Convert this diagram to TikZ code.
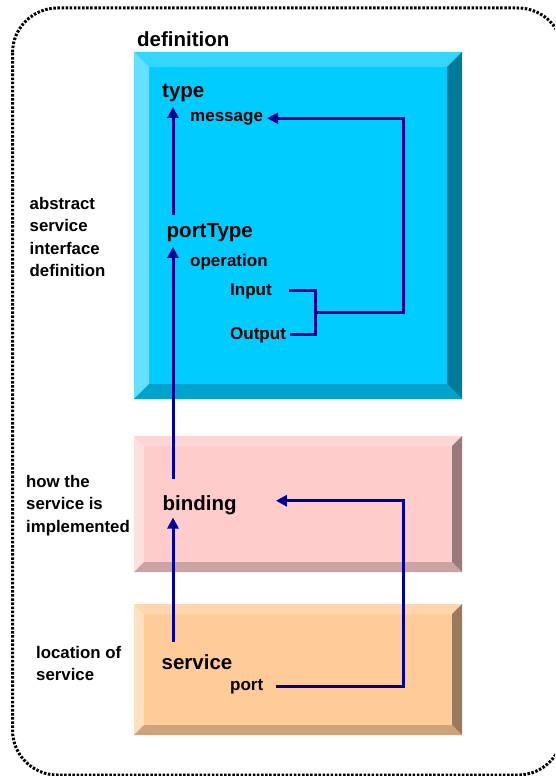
\documentclass[tikz,border=0pt]{standalone}
\usepackage{fontspec}
\setmainfont{Liberation Sans}
\usetikzlibrary{arrows.meta}
\definecolor{navy}{RGB}{0,0,153}
\definecolor{bluemain}{HTML}{00CCFF}
\definecolor{bluetop}{HTML}{33D6FF}
\definecolor{blueleft}{HTML}{66E0FF}
\definecolor{blueright}{HTML}{007A99}
\definecolor{bluebot}{HTML}{00A3CC}
\definecolor{pinkmain}{HTML}{FFCCCC}
\definecolor{pinktop}{HTML}{FFD6D6}
\definecolor{pinkleft}{HTML}{FFE0E0}
\definecolor{pinkright}{HTML}{997A7A}
\definecolor{pinkbot}{HTML}{CCA3A3}
\definecolor{orgmain}{HTML}{FFCC99}
\definecolor{orgtop}{HTML}{FFD6AD}
\definecolor{orgleft}{HTML}{FFE0C2}
\definecolor{orgright}{HTML}{997A5C}
\definecolor{orgbot}{HTML}{CCA37A}
\newcommand{\bevelbox}[6]{%
  \fill[#6main] (#1,#2) rectangle (#3,#4);
  \fill[#6top] (#1,#2) -- (#3,#2) -- (#3-#5,#2+#5) -- (#1+#5,#2+#5) -- cycle;
  \fill[#6left] (#1,#2) -- (#1+#5,#2+#5) -- (#1+#5,#4-#5) -- (#1,#4) -- cycle;
  \fill[#6right] (#3,#2) -- (#3,#4) -- (#3-#5,#4-#5) -- (#3-#5,#2+#5) -- cycle;
  \fill[#6bot] (#1,#4) -- (#3,#4) -- (#3-#5,#4-#5) -- (#1+#5,#4-#5) -- cycle;
}
\tikzset{
  mainlbl/.style={anchor=base west, inner sep=0pt, font=\fontsize{20.5}{24}\selectfont\bfseries},
  sublbl/.style={anchor=base west, inner sep=0pt, font=\fontsize{17}{20}\selectfont\bfseries},
  sidelbl/.style={anchor=base west, inner sep=0pt, align=left, font=\fontsize{16.8}{22.5}\selectfont\bfseries},
  link/.style={draw=navy, line width=3pt},
  arr/.style={link, -{Triangle[length=11pt,width=11pt]}},
  border/.style={draw=black, line width=3pt, dash pattern=on 2.5pt off 1.6pt, rounded corners=45pt}
}
\begin{document}
\begin{tikzpicture}[x=1pt,y=-1pt]
\useasboundingbox (0,0) rectangle (555,776);
\clip (0,0) rectangle (555,776);
\fill[white] (0,0) rectangle (555,776);
\draw[border] (12.5,8) rectangle (563,775);
% boxes
\bevelbox{134}{52}{462}{399}{15}{blue}
\bevelbox{134}{436}{462}{572}{10}{pink}
\bevelbox{134}{604}{462}{735}{10}{org}
% labels
\node[mainlbl] (definition) at (137,47) {definition};
\node[mainlbl] (type) at (162,97.5) {type};
\node[sublbl] (message) at (190,121) {message};
\node[mainlbl] (portType) at (166.5,237.5) {portType};
\node[sublbl] (operation) at (190,266.5) {operation};
\node[sublbl] (Input) at (230,295) {Input};
\node[sublbl] (Output) at (230,339) {Output};
\node[mainlbl] (binding) at (162.5,510) {binding};
\node[mainlbl] (service) at (161.5,669) {service};
\node[sublbl] (port) at (230,690) {port};
\node[sidelbl] (abs) at (29.5,276.5) {abstract\\service\\interface\\definition};
\node[sidelbl] (how) at (26,532) {how the\\service is\\implemented};
\node[sidelbl] (loc) at (36,680.5) {location of\\service};
% connectors
\coordinate (ax) at (173,0);
\coordinate (rt) at (403,0);
\coordinate (brk) at (315,312);
\draw[arr] ([yshift=8pt]portType.north -| ax) -- ([yshift=-5pt]type.south -| ax);
\draw[arr] ([yshift=16pt]binding.north -| ax) -- ([yshift=-5pt]portType.south -| ax);
\draw[arr] ([yshift=12pt]service.north -| ax) -- ([yshift=-3pt]binding.south -| ax);
\coordinate (ie) at ([xshift=17pt]Input.east);
\coordinate (oe) at ([xshift=4pt]Output.east);
\coordinate (me) at ([xshift=4pt]message.east);
\draw[link] (ie) -| (oe -| brk) -- (oe);
\draw[arr] (brk) -- (brk -| rt) |- (me);
\coordinate (pe) at ([xshift=13pt]port.east);
\coordinate (be) at ([xshift=39pt,yshift=4pt]binding.east);
\draw[arr] (pe) -- (pe -| rt) |- (be);
\end{tikzpicture}
\end{document}
